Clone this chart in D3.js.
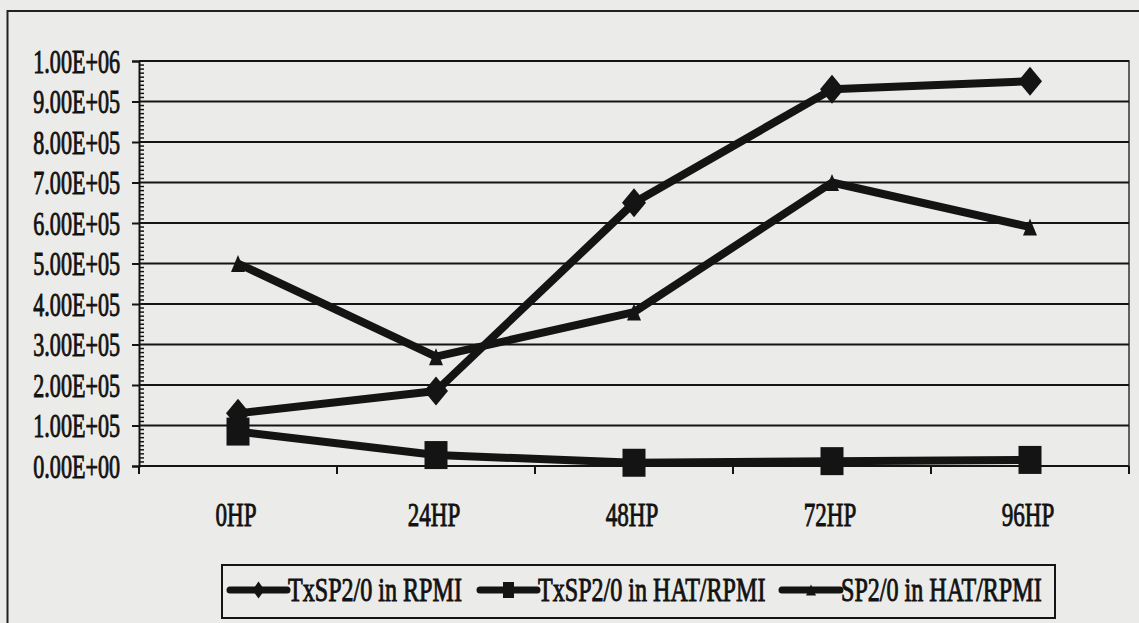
<!DOCTYPE html>
<html><head><meta charset="utf-8">
<script src="https://cdn.jsdelivr.net/npm/d3@7"></script>
<style>
body{margin:0;background:#ebebe9;}
svg{display:block;}
text{font-family:"Liberation Serif","Times New Roman",serif;fill:#121212;stroke:#121212;stroke-width:0.9px;}
</style></head>
<body><svg id="c" width="1139" height="623"></svg>
<script>
// ---- data ----
const categories = ["0HP","24HP","48HP","72HP","96HP"];
const seriesNames = ["TxSP2/0 in RPMI","TxSP2/0 in HAT/RPMI","SP2/0 in HAT/RPMI"];
const txRpmi  = [130000, 185000, 650000, 930000, 950000];
const txHat   = [85000, 27000, 8000, 12000, 15000];
const sp2Hat  = [500000, 270000, 380000, 700000, 590000];
const yTicks = [0,100000,200000,300000,400000,500000,600000,700000,800000,900000,1000000];
const yTickLabels = ["0.00E+00","1.00E+05","2.00E+05","3.00E+05","4.00E+05","5.00E+05","6.00E+05","7.00E+05","8.00E+05","9.00E+05","1.00E+06"];
const markers = ["diamond","square","triangle"];

// ---- layout ----
const svg = d3.select("#c");
const W = 1139, H = 623;
const plot = {left:139, right:1129, top:61, bottom:466};
const ink = "#141414";

svg.append("rect").attr("width",W).attr("height",H).attr("fill","#ebebe9");
svg.append("rect").attr("x",7.5).attr("y",11).attr("width",W+20).attr("height",H+20)
  .attr("fill","none").attr("stroke","#222").attr("stroke-width",2);

const x = d3.scaleBand().domain(categories).range([plot.left, plot.right]);
const y = d3.scaleLinear().domain([0,1000000]).range([plot.bottom, plot.top]);
const cx = c => x(c) + x.bandwidth()/2;

svg.append("path")
  .attr("d", `M${plot.left},${plot.top}H${plot.right}V${plot.bottom}`)
  .attr("fill","none").attr("stroke","#333").attr("stroke-width",1.5);

svg.append("g").selectAll("line").data(yTicks).join("line")
  .attr("x1",plot.left).attr("x2",plot.right)
  .attr("y1",d=>y(d)).attr("y2",d=>y(d))
  .attr("stroke",ink).attr("stroke-width",2);

const yAxis = d3.axisLeft(y).tickValues(yTicks).tickSize(7).tickFormat((d,i)=>yTickLabels[i]);
const ya = svg.append("g").attr("transform",`translate(${plot.left},0)`).call(yAxis);
ya.select(".domain").attr("stroke",ink).attr("stroke-width",2);
ya.selectAll(".tick line").attr("stroke",ink).attr("stroke-width",2);
ya.selectAll(".tick text").remove();
const minor = d3.range(0, 1000001, 10000).filter(v => v % 100000 !== 0);
svg.append("g").selectAll("line").data(minor).join("line")
  .attr("x1",plot.left).attr("x2",plot.left+5)
  .attr("y1",d=>y(d)).attr("y2",d=>y(d))
  .attr("stroke",ink).attr("stroke-width",1.5);
svg.append("g").selectAll("g").data(yTicks).join("g")
  .attr("transform",d=>`translate(120,${y(d)})`)
  .append("text").attr("transform","scale(0.67,1)")
  .attr("text-anchor","end").attr("dy","0.35em")
  .attr("font-size",33).text((d,i)=>yTickLabels[i]);

svg.append("line").attr("x1",plot.left).attr("x2",plot.right)
  .attr("y1",plot.bottom).attr("y2",plot.bottom).attr("stroke",ink).attr("stroke-width",2);
const bounds = categories.map(c=>x(c)).concat([x(categories[categories.length-1])+x.bandwidth()]);
svg.append("g").selectAll("line").data(bounds).join("line")
  .attr("x1",d=>d).attr("x2",d=>d).attr("y1",plot.bottom).attr("y2",plot.bottom+8)
  .attr("stroke",ink).attr("stroke-width",2);
svg.append("g").selectAll("g").data(categories).join("g")
  .attr("transform",d=>`translate(${cx(d)-2},514)`)
  .append("text").attr("transform","scale(0.7,1)")
  .attr("text-anchor","middle").attr("dy","0.35em")
  .attr("font-size",33).text(d=>d);

function markerPath(type, w, h){
  if(type==="diamond") return `M0,${-h/2}L${w/2},0L0,${h/2}L${-w/2},0Z`;
  if(type==="square") return `M${-w/2},${-h/2}H${w/2}V${h/2}H${-w/2}Z`;
  return `M0,${-h/2}L${w/2},${h/2}H${-w/2}Z`;
}
const bigSize = {diamond:[24,29], square:[23,28], triangle:[14,17]};
const legSize = {diamond:[12,17], square:[11,16], triangle:[10,11]};

const allSeries = [txRpmi, txHat, sp2Hat];
const line = d3.line().x((d,i)=>cx(categories[i])).y(d=>y(d));
allSeries.forEach((vals) => {
  svg.append("path").datum(vals).attr("d",line)
    .attr("fill","none").attr("stroke",ink).attr("stroke-width",8)
    .attr("stroke-linejoin","round");
});
allSeries.forEach((vals, si) => {
  const m = markers[si], s = bigSize[m];
  svg.append("g").selectAll("path").data(vals).join("path")
    .attr("transform",(d,i)=>`translate(${cx(categories[i])},${y(d)})`)
    .attr("d",markerPath(m,s[0],s[1])).attr("fill",ink);
});

const leg = svg.append("g");
leg.append("rect").attr("x",222).attr("y",565).attr("width",833).attr("height",53)
  .attr("fill","none").attr("stroke",ink).attr("stroke-width",2);
const legItems = [
  {lx1:230, lx2:287, tx:288},
  {lx1:480, lx2:537, tx:538},
  {lx1:782, lx2:840, tx:841}
];
seriesNames.forEach((name, i) => {
  const it = legItems[i], ly = 590, m = markers[i], s = legSize[m];
  leg.append("line").attr("x1",it.lx1).attr("x2",it.lx2).attr("y1",ly).attr("y2",ly)
    .attr("stroke",ink).attr("stroke-width",7).attr("stroke-linecap","round");
  leg.append("path").attr("transform",`translate(${(it.lx1+it.lx2)/2},${ly})`)
    .attr("d",markerPath(m,s[0],s[1])).attr("fill",ink);
  leg.append("g").attr("transform",`translate(${it.tx},${ly})`)
    .append("text").attr("transform","scale(0.73,1)").attr("dy","0.33em")
    .attr("font-size",33).text(name);
});
</script>
</body></html>
